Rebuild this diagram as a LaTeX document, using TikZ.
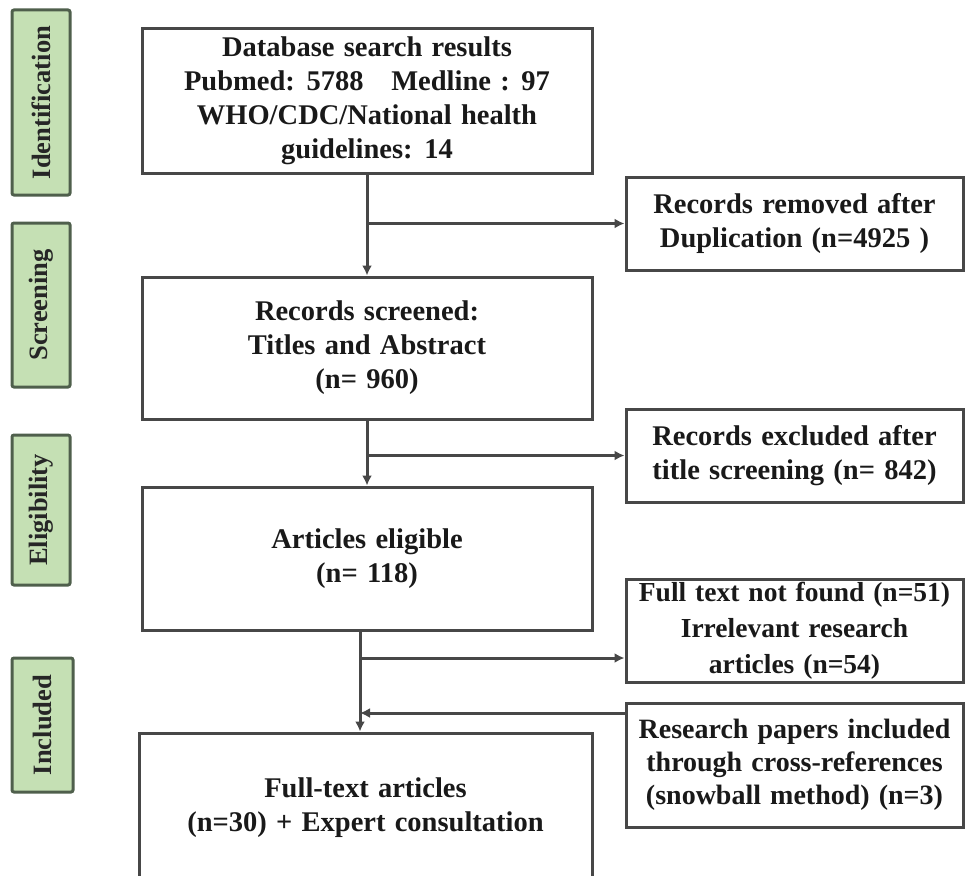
\documentclass[tikz,border=0pt]{standalone}
\usepackage{fontspec}
\setmainfont{Liberation Serif}[WordSpace=1.3]
\usetikzlibrary{arrows.meta,positioning}
\definecolor{tagfill}{HTML}{C5E0B4}
\definecolor{tagline}{HTML}{4F5F4C}
\definecolor{boxline}{HTML}{474747}

\begin{document}
\begin{tikzpicture}[
x=1pt,
y=-1pt,
flowbox/.style={
  draw=boxline,
  line width=3pt,
  align=center,
  inner sep=0pt,
  text=black!90,
  font=\fontsize{28.5pt}{34pt}\selectfont\bfseries
  },
sidebox/.style={
  draw=tagline,
  fill=tagfill,
  line width=3pt,
  rounded corners=2pt,
  rotate=90,
  inner sep=0pt,
  text=black!85,
  font=\fontsize{26.5pt}{30pt}\selectfont\bfseries
  },
link/.style={
  draw=boxline,
  line width=3pt
  },
>={Latex[length=10pt,width=10pt]}
]
\useasboundingbox (0,0) rectangle (965,875);
\clip (0,0) rectangle (965,875);

% stage tags on the left
\node[sidebox, minimum width=185pt, minimum height=58pt] (ident) at (41,102.5) {Identification};
\node[sidebox, minimum width=164pt, minimum height=58pt] (screen) at (41,305) {Screening};
\node[sidebox, minimum width=150pt, minimum height=58pt] (elig) at (41,510) {Eligibility};
\node[sidebox, minimum width=134pt, minimum height=61pt] (incl) at (42.5,725) {Included};

% main column
\node[flowbox, minimum width=450pt, minimum height=144pt] (search) at (367,101)
  {Database search results\\Pubmed: 5788~~~Medline : 97\\WHO/CDC/National health\\guidelines: 14};
\node[flowbox, minimum width=450pt, minimum height=142pt] (screened) at (367,348)
  {Records screened:\\Titles and Abstract\\(n= 960)};
\node[flowbox, minimum width=450pt, minimum height=143pt] (eligible) at (367,558.5)
  {Articles eligible\\(n= 118)};
\node[flowbox, minimum width=453pt, minimum height=150pt] (fulltext) at (365.5,808)
  {Full-text articles\\(n=30) + Expert consultation};

% side column
\node[flowbox, minimum width=337pt, minimum height=93pt] (dup) at (794.5,223.5)
  {Records removed after\\Duplication (n=4925 )};
\node[flowbox, minimum width=337pt, minimum height=93pt] (excl) at (794.5,455.5)
  {Records excluded after\\title screening (n= 842)};
\node[flowbox, minimum width=337pt, minimum height=103pt,
  font=\fontsize{27.5pt}{36pt}\selectfont\bfseries] (notfound) at (794.5,630.5)
  {Full text not found (n=51)\\Irrelevant research\\articles (n=54)};
\node[flowbox, minimum width=337pt, minimum height=124pt,
  font=\fontsize{28pt}{33pt}\selectfont\bfseries] (snowball) at (794.5,765)
  {Research papers included\\through cross-references\\(snowball method) (n=3)};

% connectors
\draw[link,->] (search.south) -- (screened.north);
\draw[link,->] (search.south |- dup.west) -- (dup.west);
\draw[link,->] (screened.south) -- (eligible.north);
\draw[link,->] (screened.south |- excl.west) -- (excl.west);
\coordinate (drop) at ([xshift=-7pt]eligible.south);
\draw[link,->] (drop) -- (drop |- fulltext.north);
\coordinate (cut) at (360,658);
\coordinate (back) at (360,713);
\draw[link,->] (cut) -- (cut -| notfound.west);
\draw[link,->] (back -| snowball.west) -- (back);
\end{tikzpicture}
\end{document}
